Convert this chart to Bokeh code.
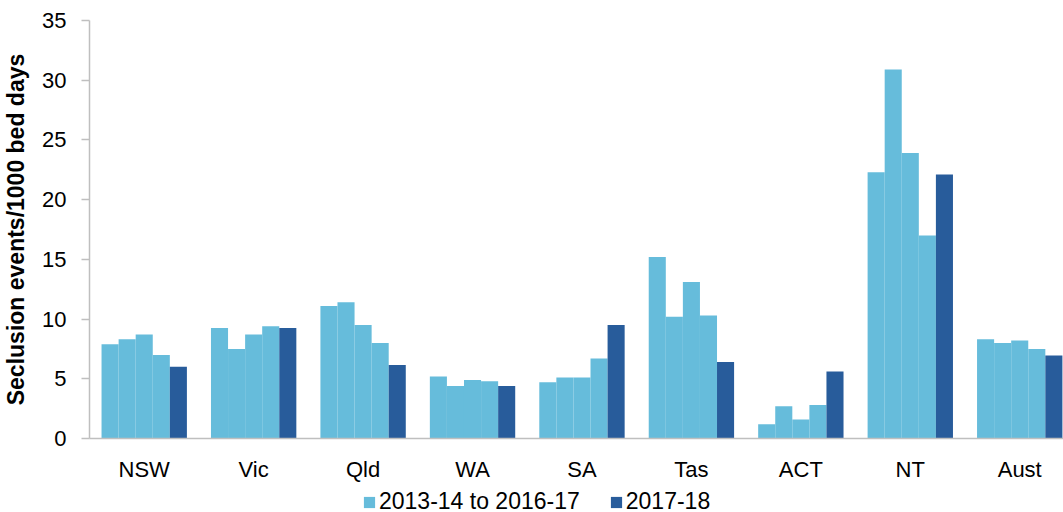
from bokeh.plotting import figure
from bokeh.models import ColumnDataSource, Range1d, FixedTicker, Legend, LegendItem
from bokeh.layouts import column
from bokeh.embed import file_html
from bokeh.resources import INLINE

states = ["NSW", "Vic", "Qld", "WA", "SA", "Tas", "ACT", "NT", "Aust"]
y2013_14 = [7.9, 9.25, 11.1, 5.2, 4.7, 15.2, 1.2, 22.3, 8.3]
y2014_15 = [8.3, 7.5, 11.4, 4.4, 5.1, 10.2, 2.7, 30.9, 8.0]
y2015_16 = [8.7, 8.7, 9.5, 4.9, 5.1, 13.1, 1.6, 23.9, 8.2]
y2016_17 = [7.0, 9.4, 8.0, 4.8, 6.7, 10.3, 2.8, 17.0, 7.5]
y2017_18 = [6.0, 9.25, 6.15, 4.4, 9.5, 6.4, 5.6, 22.1, 6.95]
legend_labels = ["2013-14 to 2016-17", "2017-18"]

series = [y2013_14, y2014_15, y2015_16, y2016_17, y2017_18]
light = "#66BCDB"
dark = "#285C9B"
colors = [light, light, light, light, dark]

FONT = "Liberation Sans"

p = figure(width=1063, height=484,
           output_backend="svg", toolbar_location=None,
           x_range=Range1d(-0.5, 8.40), y_range=Range1d(0, 35),
           min_border_left=89, min_border_right=0, min_border_top=20, min_border_bottom=0)

idx = list(range(len(states)))
group_w = 0.78
bw = group_w / len(series)
for j, (vals, c) in enumerate(zip(series, colors)):
    off = (j - (len(series) - 1) / 2) * bw
    src = ColumnDataSource(dict(x=[i + off for i in idx], top=vals))
    p.vbar(x="x", top="top", width=bw, source=src, fill_color=c, line_color=None)

p.xgrid.grid_line_color = None
p.ygrid.grid_line_color = None
p.outline_line_color = None

# x axis
p.xaxis.ticker = FixedTicker(ticks=idx)
p.xaxis.major_label_overrides = {i: s for i, s in zip(idx, states)}
p.xaxis.major_tick_line_color = None
p.xaxis.major_tick_in = 0
p.xaxis.major_tick_out = 0
p.xaxis.minor_tick_line_color = None
p.xaxis.axis_line_color = "#BFBFBF"
p.xaxis.axis_line_width = 1.5
p.xaxis.major_label_text_font = FONT
p.xaxis.major_label_text_font_size = "22px"
p.xaxis.major_label_text_color = "#000000"
p.xaxis.major_label_standoff = 18

# y axis
p.yaxis.ticker = FixedTicker(ticks=[0, 5, 10, 15, 20, 25, 30, 35])
p.yaxis.axis_line_color = "#BFBFBF"
p.yaxis.axis_line_width = 1.5
p.yaxis.major_tick_line_color = "#BFBFBF"
p.yaxis.major_tick_line_width = 1.5
p.yaxis.major_tick_in = 0
p.yaxis.major_tick_out = 8
p.yaxis.minor_tick_line_color = None
p.yaxis.major_label_text_font = FONT
p.yaxis.major_label_text_font_size = "22px"
p.yaxis.major_label_text_color = "#000000"
p.yaxis.major_label_standoff = 15
p.yaxis.axis_label = "Seclusion events/1000 bed days"
p.yaxis.axis_label_text_font = FONT
p.yaxis.axis_label_text_font_size = "23px"
p.yaxis.axis_label_text_font_style = "bold"
p.yaxis.axis_label_text_color = "#000000"
p.yaxis.axis_label_standoff = 10

# legend strip below the chart (proxy renderers lie outside its visible range)
lf = figure(width=1063, height=28, output_backend="svg", toolbar_location=None,
            x_range=Range1d(0, 1), y_range=Range1d(0, 1),
            x_axis_location=None, y_axis_location=None,
            min_border_left=0, min_border_right=0, min_border_top=0, min_border_bottom=0)
lf.outline_line_color = None
lf.xgrid.grid_line_color = None
lf.ygrid.grid_line_color = None
leg_renderers = []
for c in [light, dark]:
    leg_renderers.append(lf.vbar(x=[-5], top=[0], width=0.1, fill_color=c, line_color=None))

legend = Legend(items=[LegendItem(label=lab, renderers=[r]) for lab, r in zip(legend_labels, leg_renderers)],
                orientation="horizontal", location=(273, -3),
                label_text_font=FONT, label_text_font_size="23px",
                label_text_color="#000000", label_height=26,
                glyph_width=14, glyph_height=14, label_standoff=3, spacing=29,
                padding=0, margin=0, border_line_color=None, background_fill_alpha=0)
lf.add_layout(legend, "center")

layout = column(p, lf, spacing=0)
open("out.html", "w").write(file_html(layout, INLINE))
